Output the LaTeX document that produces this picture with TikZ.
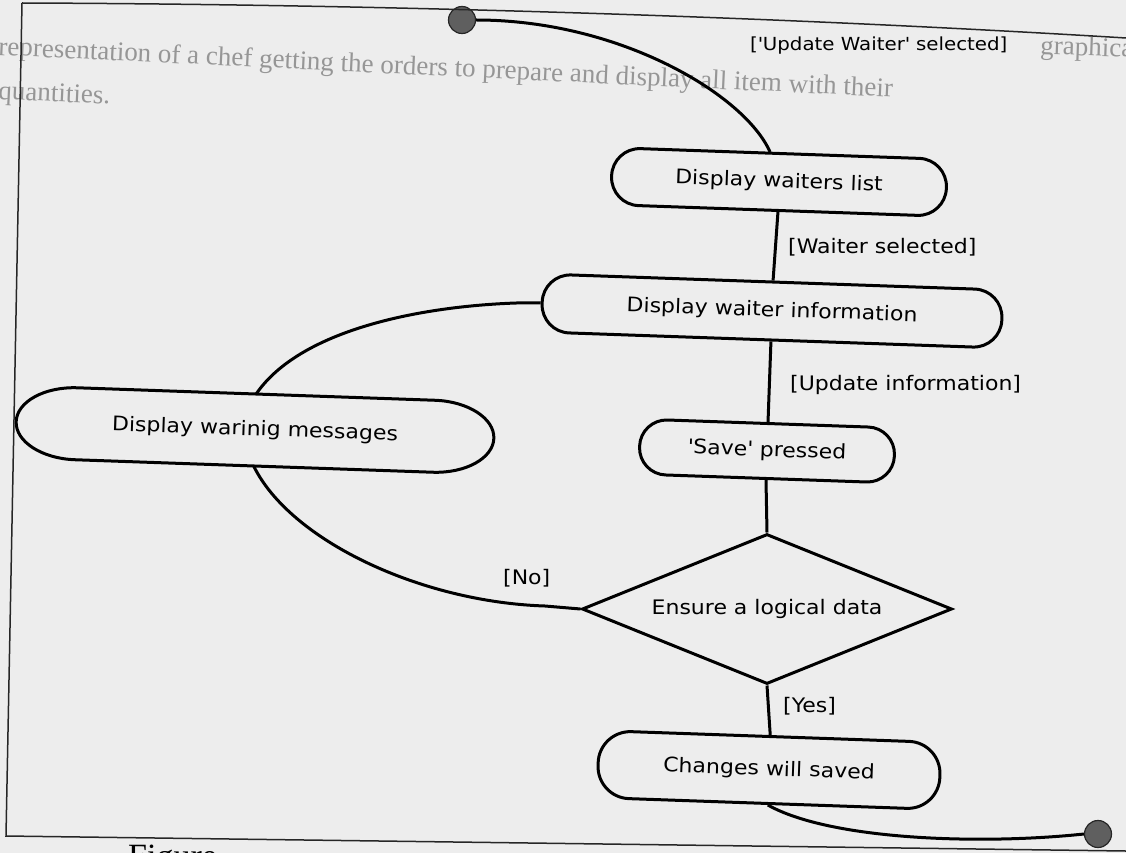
\documentclass[tikz,border=0pt]{standalone}
\usepackage{fontspec}
\setmainfont{DejaVu Sans}[FakeStretch=1.1]
\newfontfamily\pagefont{Liberation Serif}
\usetikzlibrary{shapes.geometric}
\definecolor{paper}{RGB}{237,237,237}
\definecolor{ghost}{RGB}{150,150,150}
\definecolor{dotgray}{RGB}{95,95,95}

\begin{document}
\begin{tikzpicture}[x=1pt,y=-1pt,
  txt/.style={font=\fontsize{20}{24}\selectfont, inner sep=0pt},
  act/.style={draw, line width=3pt, rounded corners=#1, rotate=-2, inner sep=0pt,
              font=\fontsize{20}{24}\selectfont},
  flow/.style={line width=3pt},
  frameline/.style={line width=1.5pt, black!85},
  pagetext/.style={font=\pagefont\fontsize{27}{32}\selectfont, text=ghost, inner sep=0pt},
  pseudo/.style={circle, draw=black!85, fill=dotgray, line width=1.2pt,
                 minimum size=27pt, inner sep=0pt}]

% paper
\fill[paper] (0,0) rectangle (1126,853);
\useasboundingbox (0,0) rectangle (1126,853);

% surrounding page text
\begin{scope}
  \clip (0,0) rectangle (1126,853);
  \node[pagetext, anchor=base west, rotate=-2] (pg1) at (1040,54) {graphical};
  \node[pagetext, anchor=base west, rotate=-2.7] (pg2) at (-2,55)
    {representation of a chef getting the orders to prepare and display all item with their};
  \node[pagetext, anchor=base west, rotate=-2.7] (pg3) at (-2,99) {quantities.};
  \node[pagetext, text=black, font=\pagefont\fontsize{34}{40}\selectfont, anchor=north west] (cap) at (128,845) {Figure};
\end{scope}

% activity nodes
\node[pseudo] (start) at (462,20) {};
\node[act=28, minimum width=335pt, minimum height=57pt] (A) at (779,182) {Display waiters list};
\node[act=28, minimum width=460pt, minimum height=58pt] (B) at (772,311) {Display waiter information};
\node[rotate=-2, minimum width=478pt, minimum height=72pt, inner sep=0pt,
      font=\fontsize{20}{24}\selectfont] (W) at (255,430) {Display warinig messages};
\node[act=27, minimum width=255pt, minimum height=55pt] (S) at (767,451) {\textquotesingle Save\textquotesingle{} pressed};
\node[diamond, aspect=3, draw, line width=3pt, minimum width=370pt, minimum height=150pt,
      inner sep=0pt, font=\fontsize{20}{24}\selectfont] (D) at (767,609) {Ensure a logical data};
\node[act=32, minimum width=342pt, minimum height=67pt] (C) at (769,770) {Changes will saved};
\node[pseudo] (end) at (1098,834) {};

% outline of the warning activity (elliptic ends)
\begin{scope}[shift={(W.center)}, rotate=-2]
  \draw[line width=3pt] (-179,-36) -- (179,-36)
    .. controls (212.1,-36) and (239,-19.9) .. (239,0)
    .. controls (239,19.9) and (212.1,36) .. (179,36)
    -- (-179,36)
    .. controls (-212.1,36) and (-239,19.9) .. (-239,0)
    .. controls (-239,-19.9) and (-212.1,-36) .. (-179,-36) -- cycle;
\end{scope}

% frame
\draw[frameline] (22,3) .. controls (300,4) and (700,12) .. (1126,38);
\draw[frameline] (22,3) -- (6,836) -- (1126,851);

% transitions
\draw[flow] (start.east) .. controls (620,20) and (745,95) .. ([xshift=-10pt]A.north);
\draw[flow] (A.south) -- (B.north);
\draw[flow] (B.south) -- (S.north);
\draw[flow] (S.south) -- (D.north);
\draw[flow] (D.south) -- (C.north);
\draw[flow] (B.west) -- ++(-22,0) .. controls (420,306) and (300,330) .. (W.north);
\draw[flow] (W.south) .. controls (290,540) and (420,602) .. (545,606) -- (D.west);
\draw[flow] (C.south) .. controls (830,840) and (980,845) .. (end.west);

% guards
\node[txt, anchor=west, font=\fontsize{18}{22}\selectfont] (g1) at (750,46) {[\textquotesingle Update Waiter\textquotesingle{} selected]};
\node[txt, anchor=west] (g2) at (788,247) {[Waiter selected]};
\node[txt, anchor=west] (g3) at (790,385) {[Update information]};
\node[txt, anchor=west] (g4) at (503,578) {[No]};
\node[txt, anchor=west] (g5) at (783,706) {[Yes]};
\end{tikzpicture}
\end{document}
